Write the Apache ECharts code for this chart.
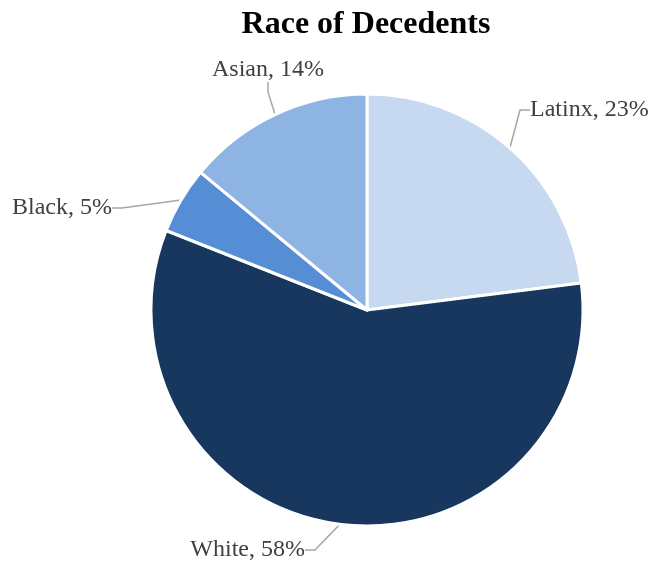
<!DOCTYPE html>
<html><head><meta charset="utf-8">
<script src="https://cdn.jsdelivr.net/npm/echarts@6/dist/echarts.min.js"></script>
<style>html,body{margin:0;padding:0;background:#fff}#c{width:657px;height:565px}</style>
</head><body><div id="c"></div>
<script>
const categories = ['Latinx', 'White', 'Black', 'Asian'];
const values = [23, 58, 5, 14];
const colors = ['#c6d9f0', '#17375e', '#558ed5', '#8eb4e3'];
const labelPos = [
  {x: 530, y: 110, align: 'left'},
  {x: 305, y: 550, align: 'right'},
  {x: 112, y: 208, align: 'right'},
  {x: 268, y: 70, align: 'center'}
];
const chart = echarts.init(document.getElementById('c'), null, {renderer: 'canvas'});
chart.setOption({
  animation: false,
  title: {
    text: 'Race of Decedents', left: 361, textAlign: 'center', top: 4,
    textStyle: {fontFamily: 'Liberation Serif', fontWeight: 'bold', fontSize: 32, color: '#000'}
  },
  series: [{
    type: 'pie',
    center: [367, 310],
    radius: 216,
    startAngle: 90,
    clockwise: true,
    data: categories.map((c, i) => ({name: c, value: values[i], itemStyle: {color: colors[i]}})),
    itemStyle: {borderColor: '#fff', borderWidth: 3},
    label: {
      show: true,
      overflow: 'none',
      edgeDistance: 0,
      formatter: p => p.name + ', ' + p.value + '%',
      fontFamily: 'Liberation Serif', fontSize: 24, color: '#404040'
    },
    labelLine: {show: true, length: 15, length2: 10, lineStyle: {color: '#a6a6a6', width: 1.5}},
    labelLayout: function (params) {
      const p = labelPos[params.dataIndex];
      return {x: p.x, y: p.y, align: p.align, verticalAlign: 'middle', width: 200};
    }
  }]
});
</script></body></html>
